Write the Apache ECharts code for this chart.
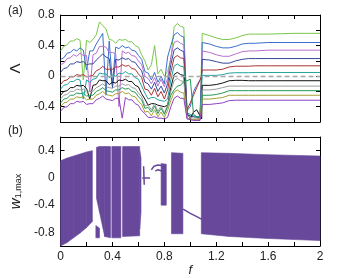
<!DOCTYPE html>
<html><head><meta charset="utf-8">
<script src="https://cdn.jsdelivr.net/npm/echarts@6/dist/echarts.min.js"></script>
<style>html,body{margin:0;padding:0;background:#fff}#c{width:343px;height:278px}</style>
</head><body><div id="c"></div>
<script>
// ---- shared f grid for panel (a)
const F = [0,0.025,0.05,0.075,0.1,0.125,0.15,0.175,0.2,0.225,0.25,0.275,0.3,0.325,0.35,0.375,0.4,0.425,0.45,0.475,0.5,0.525,0.55,0.575,0.6,0.625,0.65,0.675,0.7,0.725,0.75,0.775,0.8,0.825,0.85,0.875,0.9,0.925,0.95,0.975,1.0,1.025,1.05,1.075,1.088,1.092,1.15,1.2,1.25,1.3,1.35,1.4,1.45,1.5,1.6,1.7,1.8,1.9,2.0];
// ---- panel (a) Lambda curves
const lamGreen = [.33,.39,.41,.46,.46,.49,.47,-.05,.47,.44, .48,.54,.71,.66,.62,.48,.47,.43,.48,.47, .48,.45,.45,.40,.38,.28,.20,.08,.15,.40, .03,.09,.00,.06,.22,.64,.69,.65,.64,-.50, -.52,-.53,-.53,-.54,-.55,.56,.53,.50,.48,.48, .50,.53,.55,.55,.55,.555,.56,.56,.56];
const lamBlue = [.22,.24,.30,.31,.35,.33,.37,.34,.08,.33, .33,.42,.49,.56,-.25,.46,-.10,.38,.36,.40, .37,.38,.34,.33,.27,.22,.06,.04,-.05,.05, -.08,.00,-.10,.25,.40,.54,.57,.53,.51,-.45, -.40,-.20,-.12,-.05,-.02,.44,.42,.39,.37,.37, .39,.42,.43,.43,.44,.44,.44,.44,.44];
const lamMagenta = [.15,.17,.23,.24,.28,.26,.30,.27,.27,-.20, .28,.30,.39,.39,.38,.31,.31,.29,-.40,.33, .30,.31,.27,.26,.20,.15,.00,-.03,-.10,-.02, -.13,-.04,-.14,-.03,.25,.44,.46,.43,.41,-.55, -.56,-.57,-.57,-.57,-.57,.33,.31,.28,.26,.26, .29,.32,.33,.33,.34,.34,.34,.34,.34];
const lamNavy = [.05,.10,.11,.16,.16,.19,.18,.19,.15,.16, .16,.21,.25,.29,.25,.23,-.15,.22,.21,.24, .22,.23,.19,.18,.12,.07,-.08,-.10,-.17,-.08, -.20,-.13,-.22,-.10,.15,.34,.37,.34,.32,-.50, -.52,-.53,-.54,-.54,-.55,.22,.21,.19,.17,.17, .20,.22,.23,.23,.23,.23,.23,.23,.23];
const lamRed = [-.11,-.06,-.05,-.01,-.01,.02,.01,.02,-.01,.00, .01,.07,.09,.13,.09,.09,.09,.12,.12,.15, .13,.14,.10,.09,.03,-.02,-.17,-.18,-.25,-.16, -.27,-.20,-.30,-.18,.05,.24,.27,.24,.23,-.44, -.35,-.25,-.15,-.05,.03,.08,.08,.08,.09,.12, .13,.13,.13,.135,.135,.135,.135,.135,.135];
const lamTeal = [-.17,-.12,-.11,-.07,-.07,-.04,-.05,-.30,-.05,-.08, -.04,-.03,.04,.03,.03,-.02,.01,.00,.04,.03, .06,.03,.03,-.02,-.04,-.13,-.22,-.30,-.28,-.28, -.31,-.32,-.33,-.30,-.05,.13,.16,.13,.12,-.48, -.50,-.52,-.53,-.53,-.54,.01,.01,.01,.02,.04, .045,.045,.045,.048,.048,.048,.048,.048,.048];
const lamBlack = [-.25,-.20,-.19,-.15,-.15,-.12,-.13,-.12,-.16,-.30, -.12,-.11,-.05,-.06,-.06,-.11,-.08,-.09,-.05,-.06, -.04,-.07,-.07,-.12,-.14,-.23,-.30,-.38,-.36,-.36, -.38,-.39,-.40,-.38,-.15,.02,.05,.02,.01,-.50, -.55,-.47,-.44,-.52,-.56,-.12,-.12,-.11,-.09,-.06, -.055,-.055,-.06,-.06,-.06,-.06,-.06,-.06,-.06];
const lamGray = [-.30,-.25,-.24,-.20,-.20,-.17,-.18,-.17,-.21,-.20, -.20,-.15,-.13,-.10,-.14,-.15,-.16,-.13,-.13,-.10, -.12,-.11,-.15,-.16,-.22,-.27,-.39,-.38,-.44,-.36, -.46,-.39,-.48,-.38,-.20,-.06,-.03,-.06,-.07,-.52, -.54,-.55,-.55,-.56,-.56,-.18,-.18,-.17,-.15,-.13, -.13,-.13,-.13,-.13,-.13,-.13,-.13,-.13,-.13];
const lamGreen2 = [-.35,-.30,-.29,-.25,-.25,-.22,-.23,-.22,-.26,-.25, -.25,-.20,-.18,-.15,-.19,-.20,-.21,-.18,-.18,-.15, -.17,-.16,-.20,-.21,-.27,-.31,-.42,-.41,-.47,-.39, -.49,-.42,-.50,-.40,-.25,-.18,-.13,-.12,-.07,-.06, -.04,-.50,-.53,-.54,-.55,-.25,-.25,-.24,-.22,-.19, -.19,-.19,-.19,-.19,-.19,-.19,-.19,-.19,-.19];
const lamOlive = [-.40,-.35,-.34,-.30,-.30,-.27,-.28,-.27,-.31,-.30, -.30,-.25,-.23,-.20,-.24,-.25,-.26,-.23,-.23,-.20, -.23,-.22,-.26,-.27,-.33,-.37,-.47,-.46,-.52,-.44, -.53,-.47,-.54,-.45,-.32,-.21,-.18,-.21,-.22,-.55, -.56,-.57,-.57,-.57,-.57,-.30,-.30,-.29,-.28,-.25, -.25,-.25,-.25,-.25,-.25,-.25,-.25,-.25,-.25];
const lamPurple = [-.46,-.41,-.40,-.36,-.36,-.33,-.34,-.33,-.37,-.36, -.36,-.31,-.29,-.26,-.30,-.31,-.32,-.29,-.29,-.55, -.28,-.31,-.31,-.36,-.38,-.45,-.49,-.54,-.54,-.53, -.55,-.55,-.56,-.54,-.40,-.29,-.26,-.29,-.29,-.56, -.57,-.58,-.58,-.58,-.58,-.37,-.37,-.36,-.35,-.32, -.315,-.315,-.315,-.315,-.315,-.315,-.315,-.315,-.315];

// ---- panel (b) w_1,max bands: [f0, lo0, hi0, f1, lo1, hi1]
const wBands = [
  [0.00,-1.00,0.25, 0.05,-0.95,0.29],
  [0.05,-0.95,0.29, 0.10,-0.88,0.32],
  [0.10,-0.88,0.32, 0.15,-0.81,0.35],
  [0.15,-0.81,0.35, 0.20,-0.73,0.38],
  [0.20,-0.73,0.38, 0.245,-0.64,0.40],
  [0.277,-0.30,0.45, 0.30,-0.50,0.46],
  [0.30,-0.50,0.46, 0.34,-0.86,0.46],
  [0.34,-0.86,0.46, 0.385,-0.88,0.46],
  [0.272,-0.88,-0.70, 0.30,-0.88,-0.74],
  [0.395,-0.88,0.46, 0.465,-0.88,0.46],
  [0.478,-0.86,0.46, 0.61,-0.85,0.46],
  [0.61,-0.75,0.40, 0.62,-0.50,0.30],
  [0.775,-0.40,0.21, 0.815,-0.40,0.20],
  [0.855,-0.82,0.37, 0.943,-0.82,0.36],
  [1.085,-0.82,0.37, 1.30,-0.86,0.36],
  [1.30,-0.86,0.36, 1.60,-0.89,0.34],
  [1.60,-0.89,0.34, 2.00,-0.92,0.32]
];
const wTraceFlat = [[0.63,0.0],[0.69,0.0]];
const wTraceVert = [[0.64,0.17],[0.645,-0.10]];
const wTraceLoop = [[0.70,0.12],[0.72,0.17],[0.75,0.19],[0.78,0.18],[0.79,0.13],[0.78,0.10],[0.75,0.12],[0.73,0.10]];
const wTraceDiag = [[0.945,-0.46],[1.0,-0.52],[1.05,-0.57],[1.09,-0.61]];

const lamSeries = [
  ['green', lamGreen, '#79c84a'],
  ['blue', lamBlue, '#3b6fc9'],
  ['magenta', lamMagenta, '#b86fcf'],
  ['navy', lamNavy, '#33479c'],
  ['red', lamRed, '#a93434'],
  ['teal', lamTeal, '#1fa39c'],
  ['black', lamBlack, '#111111'],
  ['gray', lamGray, '#9c9c9c'],
  ['green2', lamGreen2, '#239a55'],
  ['olive', lamOlive, '#a59f35'],
  ['purple', lamPurple, '#9040c4']
];
const PURPLE = '#67489b';
const FONT = '"Liberation Sans", Arial, sans-serif';

const fmt = v => { const k = Math.round(v*10); if (k % 4 !== 0) return ''; return k === 0 ? '0' : (k % 10 === 0 ? String(k/10) : (k/10).toFixed(1)); };

const axisLineS = {show:true, onZero:false, lineStyle:{color:'#000', width:1}};
const tickS = {show:true, inside:true, length:4, lineStyle:{color:'#000', width:1}};
function xAx(grid, pos, labels){
  return {type:'value', gridIndex:grid, position:pos, min:0, max:2, interval:0.2,
    axisLine:axisLineS, axisTick:tickS, splitLine:{show:false},
    axisLabel:{show:labels, formatter:fmt, margin:5, color:'#222', fontSize:12, fontFamily:FONT, showMinLabel:true, showMaxLabel:true}};
}
function yAx(grid, pos, min, max, labels){
  return {type:'value', gridIndex:grid, position:pos, min:min, max:max, interval:0.2,
    axisLine:axisLineS, axisTick:tickS, splitLine:{show:false},
    axisLabel:{show:labels, formatter:fmt, margin:6, color:'#222', fontSize:12, fontFamily:FONT}};
}
const xAxes = [xAx(0,'bottom',false), xAx(0,'top',false), xAx(1,'bottom',true), xAx(1,'top',false)];
xAxes[2].name = 'f'; xAxes[2].nameLocation = 'middle'; xAxes[2].nameGap = 18;
xAxes[2].nameTextStyle = {fontStyle:'italic', fontSize:13, fontFamily:FONT, color:'#222'};
const yAxes = [yAx(0,'left',-0.6,0.8,true), yAx(0,'right',-0.6,0.8,false), yAx(1,'left',-1,0.6,true), yAx(1,'right',-1,0.6,false)];
yAxes[0].name = 'Λ'; yAxes[0].nameLocation='middle'; yAxes[0].nameGap = 27; yAxes[0].nameRotate = 90;
yAxes[0].nameTextStyle = {fontSize:15, fontFamily:FONT, color:'#222'};
yAxes[2].name = '{w|w}{s|1,max}'; yAxes[2].nameLocation='middle'; yAxes[2].nameGap = 30; yAxes[2].nameRotate = 90;
yAxes[2].nameTextStyle = {fontFamily:FONT, color:'#222', rich:{
  w:{fontSize:15, fontStyle:'italic', fontFamily:FONT, color:'#222', lineHeight:18, verticalAlign:'bottom'},
  s:{fontSize:9, fontFamily:FONT, color:'#222', lineHeight:18, verticalAlign:'bottom', padding:[6,0,0,0]}}};

const series = lamSeries.map(([name, arr, color]) => ({
  name, type:'line', xAxisIndex:0, yAxisIndex:0, showSymbol:false, symbol:'none',
  data: F.map((f,i)=>[f, arr[i]]), lineStyle:{color, width:1}, itemStyle:{color}, z:3, animation:false
}));
series.push({type:'line', xAxisIndex:0, yAxisIndex:0, data:[], markLine:{silent:true, symbol:'none', label:{show:false},
  data:[{yAxis:0}], lineStyle:{type:[5,3], color:'#a6a6a6', width:1.3}, animation:false}, z:2});
series.push({type:'custom', xAxisIndex:2, yAxisIndex:2, data:wBands, encode:{x:[0,3], y:[1,2,4,5]},
  renderItem:(params, api)=>{
    const pts = [api.coord([api.value(0), api.value(1)]), api.coord([api.value(0), api.value(2)]),
                 api.coord([api.value(3), api.value(5)]), api.coord([api.value(3), api.value(4)])];
    return {type:'polygon', shape:{points:pts}, style:{fill:PURPLE, stroke:PURPLE, lineWidth:0.6}};
  }, animation:false});
[wTraceFlat, wTraceVert, wTraceLoop, wTraceDiag].forEach(d => series.push({type:'line', xAxisIndex:2, yAxisIndex:2,
  data:d, showSymbol:false, symbol:'none', lineStyle:{color:PURPLE, width:1.5}, animation:false}));

const chart = echarts.init(document.getElementById('c'), null, {renderer:'canvas'});
chart.setOption({
  animation:false,
  grid:[{left:55, right:23, top:15, height:107}, {left:55, right:23, top:137, height:109}],
  xAxis:xAxes, yAxis:yAxes, series,
  graphic:[
    {type:'text', left:8, top:5, style:{text:'(a)', fontSize:12, fontFamily:FONT, fill:'#222'}},
    {type:'text', left:8, top:125, style:{text:'(b)', fontSize:12, fontFamily:FONT, fill:'#222'}}
  ]
});
</script></body></html>
